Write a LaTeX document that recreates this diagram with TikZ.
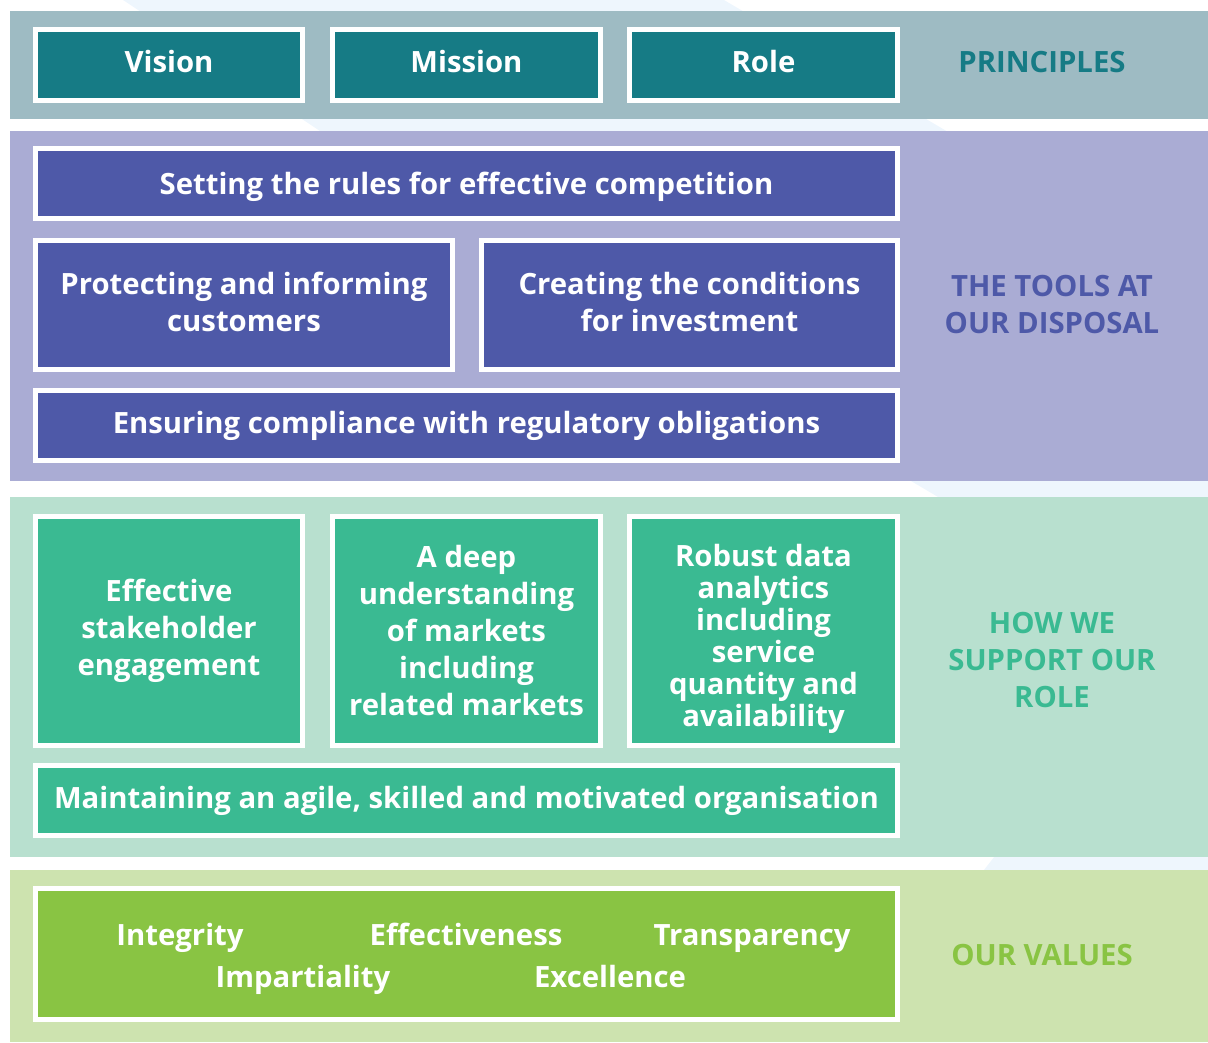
\documentclass[tikz,border=0pt]{standalone}
\usepackage{fontspec}
\setmainfont{Open Sans}
\definecolor{tealdark}{HTML}{167B85}
\definecolor{tealband}{HTML}{9EBBC3}
\definecolor{purpledark}{HTML}{4E59A8}
\definecolor{purpleband}{HTML}{AAACD4}
\definecolor{greendark}{HTML}{3ABA92}
\definecolor{greenband}{HTML}{B8E0CF}
\definecolor{limedark}{HTML}{89C443}
\definecolor{limeband}{HTML}{CDE3AF}
\definecolor{swoosh}{HTML}{EEF6FD}
\begin{document}
\begin{tikzpicture}[x=1pt, y=-1pt,
    tile/.style={draw=white, line width=5pt, inner sep=0pt, align=center,
        text=white, font=\fontsize{29.3}{37}\selectfont\bfseries},
    sidelabel/.style={align=center, font=\fontsize{29.3}{37}\selectfont\bfseries},
    valuetext/.style={anchor=base, text=white, font=\fontsize{29.3}{37}\selectfont\bfseries}]
    \useasboundingbox (0, 0) rectangle (1208, 1042);

    % background swoosh
    \fill[swoosh] (123, 0) -- (724, 0) -- (1208, 285) -- (1208, 1042) -- (850, 1042)
        -- (1005, 843) -- (938, 497) -- (320, 131) -- cycle;

    % bands
    \fill[tealband] (10, 11) rectangle (1208, 119);
    \fill[purpleband] (10, 131) rectangle (1208, 481);
    \fill[greenband] (10, 497) rectangle (1208, 857);
    \fill[limeband] (10, 870) rectangle (1208, 1042);

    % principles
    \node[tile, fill=tealdark, minimum width=267, minimum height=71, text depth=8pt] (vision) at (169, 65) {Vision};
    \node[tile, fill=tealdark, minimum width=268, minimum height=71, text depth=8pt] (mission) at (466.5, 65) {Mission};
    \node[tile, fill=tealdark, minimum width=268, minimum height=71, text depth=8pt] (role) at (763.5, 65) {Role};
    \node[sidelabel, text=tealdark] (principles) at (1042, 62) {PRINCIPLES};

    % tools
    \node[tile, fill=purpledark, minimum width=862, minimum height=70, text depth=1pt] (rules) at (466.5, 183.5)
        {Setting the rules for effective competition};
    \node[tile, fill=purpledark, minimum width=417, minimum height=129, text depth=6pt] (protect) at (244, 305)
        {Protecting and informing\\customers};
    \node[tile, fill=purpledark, minimum width=416, minimum height=129, text depth=6pt] (invest) at (689.5, 305)
        {Creating the conditions\\for investment};
    \node[tile, fill=purpledark, minimum width=862, minimum height=70] (comply) at (466.5, 425.5)
        {Ensuring compliance with regulatory obligations};
    \node[sidelabel, text=purpledark] (tools) at (1052, 305) {THE TOOLS AT\\OUR DISPOSAL};

    % support
    \node[tile, fill=greendark, minimum width=267, minimum height=229] (stakeholder) at (169, 631)
        {Effective\\stakeholder\\engagement};
    \node[tile, fill=greendark, minimum width=268, minimum height=229] (markets) at (466.5, 631)
        {A deep\\understanding\\of markets\\including\\related markets};
    \node[tile, fill=greendark, minimum width=268, minimum height=229, text height=198pt,
        font=\fontsize{29.3}{32}\selectfont\bfseries] (analytics) at (763.5, 631)
        {Robust data\\analytics\\including\\service\\quantity and\\availability};
    \node[tile, fill=greendark, minimum width=862, minimum height=70] (agile) at (466.5, 800.5)
        {Maintaining an agile, skilled and motivated organisation};
    \node[sidelabel, text=greendark] (support) at (1052, 660) {HOW WE\\SUPPORT OUR\\ROLE};

    % values
    \node[tile, fill=limedark, minimum width=862, minimum height=131] (values) at (466.5, 954) {};
    \node[valuetext] (integrity) at (180, 945) {Integrity};
    \node[valuetext] (effective) at (466, 945) {Effectiveness};
    \node[valuetext] (transparency) at (752, 945) {Transparency};
    \node[valuetext] (impartiality) at (303, 987) {Impartiality};
    \node[valuetext] (excellence) at (610, 987) {Excellence};
    \node[sidelabel, text=limedark] (ourvalues) at (1042, 955) {OUR VALUES};
\end{tikzpicture}
\end{document}
